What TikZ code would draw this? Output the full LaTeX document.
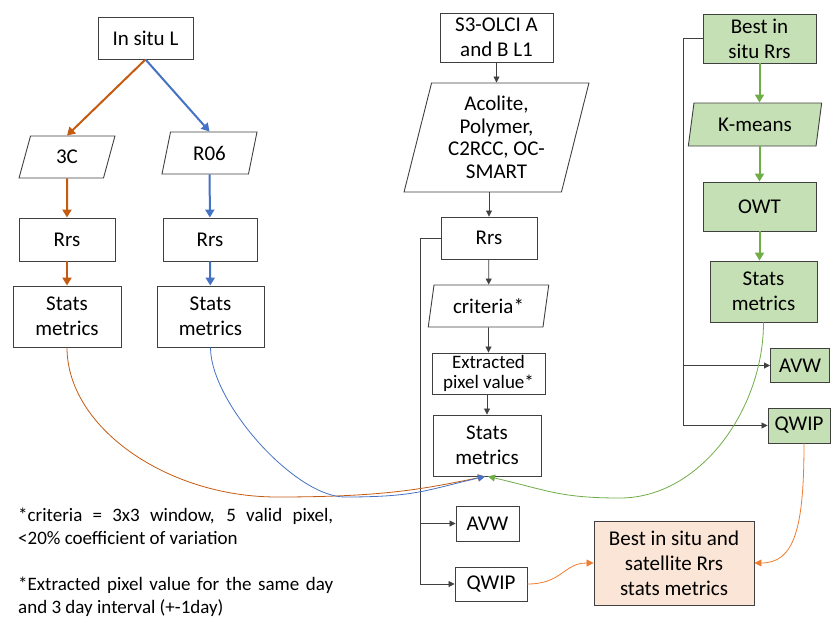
\documentclass[tikz,border=0pt]{standalone}
\usepackage{fontspec}
\setmainfont{Carlito}
\usepackage{tikz}
\usetikzlibrary{positioning,shapes.geometric,arrows.meta}
\definecolor{lineGray}{HTML}{404040}
\definecolor{darkOrange}{HTML}{C55A11}
\definecolor{lightOrange}{HTML}{ED7D31}
\definecolor{officeBlue}{HTML}{4472C4}
\definecolor{officeGreen}{HTML}{70AD47}
\definecolor{fillGreen}{HTML}{C5E0B4}
\definecolor{fillPeach}{HTML}{FBE5D6}
\tikzset{
	box/.style 2 args={draw=lineGray, line width=0.9pt, inner sep=0pt, align=center,
		minimum width=#1, minimum height=#2, font=\fontsize{21}{25}\selectfont},
	para/.style 2 args={trapezium, trapezium left angle=76, trapezium right angle=104,
		trapezium stretches=true, draw=lineGray, line width=0.9pt, inner sep=0pt, align=center,
		minimum width=#1, minimum height=#2, font=\fontsize{21}{25}\selectfont},
	greenbox/.style={fill=fillGreen},
	flow/.style={line width=0.8pt, draw=black!75, -{Triangle[length=6pt,width=6pt]}},
	thickflow/.style={line width=2pt, draw=#1, -{Triangle[length=8pt,width=9pt]}},
	curve/.style={line width=0.8pt, draw=#1, -{Triangle[length=7pt,width=7pt]}},
	note/.style={anchor=north west, inner sep=0pt, text width=315pt, align=justify,
		font=\fontsize{19}{23}\selectfont}
}

\begin{document}
\begin{tikzpicture}[x=1pt,y=1pt]
	\useasboundingbox (0,0) rectangle (831,-619);
	% in situ branch
	\node[box={95pt}{42pt}] (insitu) at (145.5,-38) {In situ L};
	\node[para={96pt}{42pt}] (c3) at (67,-157) {3C};
	\node[para={95pt}{42pt}] (r06) at (209.5,-153) {R06};
	\node[box={96pt}{43pt}] (rrsA) at (67,-239.5) {Rrs};
	\node[box={94pt}{43pt}] (rrsB) at (210,-239.5) {Rrs};
	\node[box={108pt}{61pt}] (statsA) at (67,-316.5) {Stats\\metrics};
	\node[box={107pt}{61pt}] (statsB) at (210.5,-316.5) {Stats\\metrics};
	% satellite branch
	\node[box={113pt}{49pt}] (olci) at (496.5,-37.5) {S3-OLCI A\\and B L1};
	\node[para={185pt}{109pt}, font=\fontsize{21}{22.5}\selectfont] (ac) at (496.5,-137.5) {Acolite,\\Polymer,\\C2RCC, OC-\\SMART};
	\node[box={96pt}{42pt}] (rrsM) at (489,-238) {Rrs};
	\node[para={121pt}{42pt}] (crit) at (488.5,-306) {criteria*};
	\node[box={113pt}{41pt}, font=\fontsize{19}{20}\selectfont] (extr) at (488.5,-373.5) {Extracted\\pixel value*};
	\node[box={108pt}{61pt}] (statsM) at (487,-445.5) {Stats\\metrics};
	\node[box={63pt}{35pt}] (avwM) at (487.5,-523.5) {AVW};
	\node[box={72pt}{34pt}] (qwipM) at (491,-584) {QWIP};
	\node[box={160pt}{84pt}, fill=fillPeach] (final) at (674,-563) {Best in situ and\\satellite Rrs\\stats metrics};
	% best in situ branch
	\node[box={113pt}{49pt}, greenbox] (best) at (759.5,-38.5) {Best in\\situ Rrs};
	\node[para={134pt}{43pt}, greenbox] (kmeans) at (755,-124.5) {K-means};
	\node[box={113pt}{49pt}, greenbox] (owt) at (759.5,-206.5) {OWT};
	\node[box={107pt}{61pt}, greenbox] (statsR) at (763.5,-291.5) {Stats\\metrics};
	\node[box={59pt}{34pt}, greenbox] (avwR) at (800,-365.5) {AVW};
	\node[box={62pt}{35pt}, greenbox] (qwipR) at (799,-425.5) {QWIP};
	% notes
	\node[note] (note1) at (18,-508) {*criteria = 3x3 window, 5 valid pixel,\linebreak <20\% coefficient of variation};
	\node[note] (note2) at (18,-577) {*Extracted pixel value for the same day\linebreak and 3 day interval (+-1day)};

	\draw[thickflow=darkOrange] (insitu.south) -- (c3.north);
	\draw[thickflow=officeBlue] (insitu.south) -- (r06.north);
	\draw[thickflow=darkOrange] (c3) -- (rrsA);
	\draw[thickflow=darkOrange] (rrsA) -- (statsA);
	\draw[thickflow=officeBlue] (r06) -- (rrsB);
	\draw[thickflow=officeBlue] (rrsB) -- (statsB);

	\draw[flow] (olci) -- (ac);
	\draw[flow] (rrsM |- ac.south) -- (rrsM);
	\draw[flow] (rrsM) -- (crit);
	\draw[flow] (crit) -- (extr);
	\draw[flow] (statsM |- extr.south) -- (statsM);

	\draw[thickflow=officeGreen] (best.south) -- (best.south |- kmeans.north);
	\draw[thickflow=officeGreen] (owt.north |- kmeans.south) -- (owt.north);
	\draw[thickflow=officeGreen] (owt.south) -- (owt.south |- statsR.north);

	\coordinate (busM) at (420,-238);
	\coordinate (busR) at (683,-38.5);
	\draw[flow] (rrsM.west) -- (busM) |- (qwipM.west);
	\draw[flow] (busM |- avwM.west) -- (avwM.west);
	\draw[flow] (best.west) -- (busR) |- (avwR.west);
	\draw[flow] (busR |- avwR.west) |- (qwipR.west);

	\draw[curve=darkOrange] (statsA.south) .. controls +(0,-80) and +(-110,0) .. (277,-497) .. controls +(110,0) and +(-60,-12) .. ([xshift=-2pt]statsM.south);
	\draw[curve=officeBlue] (statsB.south) .. controls +(0,-55) and +(-50,0) .. (345,-497) .. controls +(70,0) and +(-60,-14) .. ([xshift=-2pt]statsM.south);
	\draw[curve=officeGreen] (statsR.south) .. controls +(0,-87) and +(80,0) .. (620,-498) .. controls +(-60,0) and +(60,-14) .. ([xshift=1pt]statsM.south);
	\draw[curve=lightOrange] (qwipM.east) .. controls +(35,0) and +(-30,0) .. (final.west);
	\draw[curve=lightOrange] ([xshift=5pt]qwipR.south) .. controls +(0,-85) and +(40,0) .. (final.east);
\end{tikzpicture}
\end{document}
